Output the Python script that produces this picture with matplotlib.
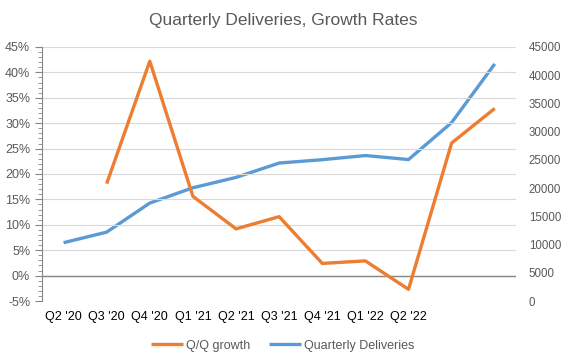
import matplotlib.pyplot as plt
from matplotlib.ticker import MultipleLocator, FuncFormatter

quarters = ["Q2 '20", "Q3 '20", "Q4 '20", "Q1 '21", "Q2 '21", "Q3 '21",
            "Q4 '21", "Q1 '22", "Q2 '22", "", ""]
deliveries = [10331, 12206, 17353, 20060, 21896, 24439, 25034, 25768, 25059, 31607, 42000]
qq_growth = [None, 18.1, 42.2, 15.6, 9.2, 11.6, 2.4, 2.9, -2.7, 26.1, 32.9]

ORANGE = "#ED7D31"
BLUE = "#5B9BD5"
GREY = "#595959"

plt.rcParams['font.family'] = ['Liberation Sans', 'DejaVu Sans']

fig = plt.figure(figsize=(5.66, 3.64), dpi=100)
ax = fig.add_axes([0.0742, 0.173, 0.838, 0.698])
ax2 = ax.twinx()

x = list(range(len(quarters)))
gx = [i for i, v in zip(x, qq_growth) if v is not None]
gy = [v for v in qq_growth if v is not None]

ax.set_xlim(-0.5, len(quarters) - 0.5)
ax.set_ylim(-5, 45)
ax.yaxis.set_major_locator(MultipleLocator(5))
ax.yaxis.set_minor_locator(MultipleLocator(1))
ax.yaxis.set_major_formatter(FuncFormatter(lambda v, p: f"{v:.0f}%"))
ax.grid(axis="y", color="#D9D9D9", lw=0.8)
ax.set_axisbelow(True)
ax.axhline(0, color="#868686", lw=1, zorder=1)

ax2.set_ylim(0, 45000)
ax2.yaxis.set_major_locator(MultipleLocator(5000))

line_g, = ax.plot(gx, gy, color=ORANGE, lw=2.4, zorder=3, solid_capstyle="butt")
line_d, = ax2.plot(x, deliveries, color=BLUE, lw=2.4, zorder=3, solid_capstyle="butt")
ax.set_zorder(ax2.get_zorder() + 1)
ax.patch.set_visible(False)

ax.set_xticks(x)
ax.set_xticklabels(quarters)
ax.tick_params(axis="x", length=0, labelsize=9, colors="black", pad=7)
ax.tick_params(axis="y", which="major", length=5, color="#868686", labelsize=9, labelcolor=GREY, direction="out")
ax.tick_params(axis="y", which="minor", length=3, color="#868686", direction="out")
ax2.tick_params(axis="y", length=0, labelsize=8.3, labelcolor=GREY, pad=9)

for a in (ax, ax2):
    for s in ("top", "right", "bottom"):
        a.spines[s].set_visible(False)
ax2.spines["left"].set_visible(False)
ax.spines["left"].set_color("#868686")

fig.suptitle("Quarterly Deliveries, Growth Rates", fontsize=12.5, color=GREY, y=0.965)

fig.legend([line_g, line_d], ["Q/Q growth", "Quarterly Deliveries"],
           loc="center", bbox_to_anchor=(0.5, 0.05), ncol=2, frameon=False,
           fontsize=9, handlelength=2.5, handletextpad=0.3, columnspacing=1.5,
           labelcolor=GREY)

fig.savefig("out.png", dpi=100)
